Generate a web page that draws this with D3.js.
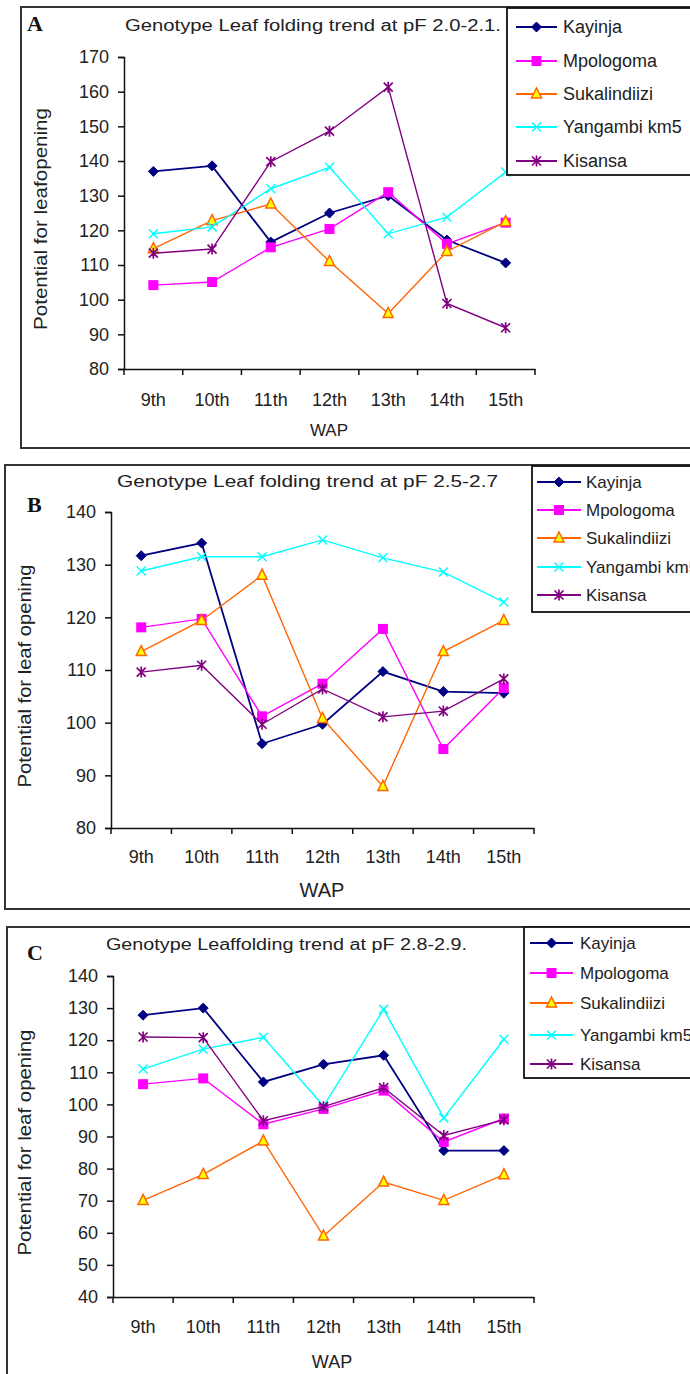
<!DOCTYPE html>
<html>
<head>
<meta charset="utf-8">
<script src="https://cdn.jsdelivr.net/npm/d3@7"></script>
<style>
  body { margin: 0; background: #fff; }
  text { font-family: "Liberation Sans", Arial, sans-serif; fill: #222; }
</style>
</head>
<body>
<div id="chart"></div>
<script>
const weeks = ["9th", "10th", "11th", "12th", "13th", "14th", "15th"]
const genotypes = ["Kayinja", "Mpologoma", "Sukalindiizi", "Yangambi km5", "Kisansa"]

// panel A, pF 2.0-2.1
const kayinjaA = [137, 138.6, 116.6, 125, 130, 117.2, 110.6]
const mpologomaA = [104.2, 105.1, 115.1, 120.4, 131, 116.1, 122.2]
const sukalindiiziA = [114.7, 122.8, 127.6, 111, 96, 113.9, 122.5]
const yangambiA = [119, 121, 132, 138.2, 119, 123.8, 136.8]
const kisansaA = [113.4, 114.6, 139.8, 148.6, 161.3, 98.9, 91.9]

// panel B, pF 2.5-2.7
const kayinjaB = [131.7, 134.1, 96, 99.7, 109.7, 105.9, 105.6]
const mpologomaB = [118.1, 119.7, 101.2, 107.4, 117.8, 95, 106.6]
const sukalindiiziB = [113.5, 119.4, 128, 100.8, 87.9, 113.5, 119.4]
const yangambiB = [128.8, 131.5, 131.5, 134.7, 131.3, 128.6, 122.9]
const kisansaB = [109.6, 110.9, 99.7, 106.4, 101.1, 102.2, 108.3]

// panel C, pF 2.8-2.9
const kayinjaC = [127.8, 130, 107, 112.5, 115.3, 85.6, 85.6]
const mpologomaC = [106.3, 108.1, 93.8, 98.6, 104.3, 88.3, 95.6]
const sukalindiiziC = [70.1, 78.2, 88.6, 59, 75.8, 70.1, 78.1]
const yangambiC = [111, 117.2, 120.9, 99.5, 129.6, 95.8, 120.3]
const kisansaC = [121, 120.8, 94.9, 99.3, 105.2, 90.3, 95.2]

const yTicksA = [80, 90, 100, 110, 120, 130, 140, 150, 160, 170]
const yTicksB = [80, 90, 100, 110, 120, 130, 140]
const yTicksC = [40, 50, 60, 70, 80, 90, 100, 110, 120, 130, 140]

const COLORS = ["#000080", "#FF00FF", "#FF6600", "#00FFFF", "#800080"]
const SHAPES = ["diamond", "square", "triangle", "cross", "star"]

const svg = d3.select("#chart").append("svg")
  .attr("width", 690)
  .attr("height", 1374)

const panels = [
  {
    letter: "A", letterY: 31,
    box: { x: 21, y: 7, bottom: 448 },
    title: "Genotype Leaf folding trend at pF 2.0-2.1.", titleX: 125, titleY: 31, titleW: 376, titleSize: 16,
    xr: [124, 535], yr: [369, 57], yTicks: yTicksA,
    tickSize: 18, xLabelY: 406, ylab: "Potential for leafopening", ylabX: 47, ylabLen: 222,
    wapX: 329, wapY: 436, wapSize: 17,
    legend: { x: 507, y: 8, h: 167, rows: [27, 61, 94, 127, 161], lineX: [516, 557], textX: 563, size: 18 },
    series: [kayinjaA, mpologomaA, sukalindiiziA, yangambiA, kisansaA]
  },
  {
    letter: "B", letterY: 512,
    box: { x: 5, y: 465, bottom: 909 },
    title: "Genotype Leaf folding trend at pF 2.5-2.7", titleX: 117, titleY: 487, titleW: 381, titleSize: 16,
    xr: [111, 534], yr: [828, 512], yTicks: yTicksB,
    tickSize: 18, xLabelY: 863, ylab: "Potential for leaf opening", ylabX: 31, ylabLen: 223,
    wapX: 322, wapY: 897, wapSize: 20,
    legend: { x: 532, y: 466, h: 146, rows: [482, 510, 538, 567, 595], lineX: [537, 581], textX: 586, size: 17 },
    series: [kayinjaB, mpologomaB, sukalindiiziB, yangambiB, kisansaB]
  },
  {
    letter: "C", letterY: 960,
    box: { x: 7, y: 927, bottom: 1400 },
    title: "Genotype Leaffolding trend at pF 2.8-2.9.", titleX: 106, titleY: 950, titleW: 361, titleSize: 16,
    xr: [113, 534], yr: [1297, 976], yTicks: yTicksC,
    tickSize: 18, xLabelY: 1333, ylab: "Potential for leaf opening", ylabX: 31, ylabLen: 226,
    wapX: 332, wapY: 1368, wapSize: 18,
    legend: { x: 524, y: 927, h: 151, rows: [943, 973, 1003, 1035, 1064], lineX: [530, 573], textX: 580, size: 17 },
    series: [kayinjaC, mpologomaC, sukalindiiziC, yangambiC, kisansaC]
  }
]

function drawMarker(g, shape, color, x, y, s) {
  if (shape === "diamond") {
    g.append("path").attr("d", `M${x},${y - s}L${x + s},${y}L${x},${y + s}L${x - s},${y}Z`)
      .attr("fill", color).attr("stroke", color)
  } else if (shape === "square") {
    g.append("rect").attr("x", x - s).attr("y", y - s).attr("width", 2 * s).attr("height", 2 * s)
      .attr("fill", color)
  } else if (shape === "triangle") {
    g.append("path").attr("d", `M${x},${y - s - 1}L${x + s},${y + s - 1}L${x - s},${y + s - 1}Z`)
      .attr("fill", "#FFFF00").attr("stroke", color).attr("stroke-width", 1.5)
  } else if (shape === "cross") {
    g.append("path").attr("d", `M${x - s},${y - s}L${x + s},${y + s}M${x - s},${y + s}L${x + s},${y - s}`)
      .attr("stroke", color).attr("stroke-width", 1.5)
  } else {
    g.append("path").attr("d", `M${x - s},${y - s}L${x + s},${y + s}M${x - s},${y + s}L${x + s},${y - s}M${x},${y - s - 1}L${x},${y + s + 1}`)
      .attr("stroke", color).attr("stroke-width", 1.7)
  }
}

const markerSize = [5, 5, 5, 4.5, 4.5]

panels.forEach(p => {
  const g = svg.append("g")

  // outer frame
  g.append("rect")
    .attr("x", p.box.x).attr("y", p.box.y)
    .attr("width", 720 - p.box.x).attr("height", p.box.bottom - p.box.y)
    .attr("fill", "none").attr("stroke", "#333").attr("stroke-width", 2)

  // panel letter
  g.append("text")
    .attr("x", 27).attr("y", p.letterY)
    .style("font-family", "'Liberation Serif', 'Times New Roman', serif")
    .style("font-weight", "bold").style("font-size", "22px").style("fill", "#111")
    .text(p.letter)

  // title
  g.append("text")
    .attr("x", p.titleX).attr("y", p.titleY)
    .attr("textLength", p.titleW).attr("lengthAdjust", "spacingAndGlyphs")
    .style("font-size", p.titleSize + "px")
    .text(p.title)

  const x = d3.scaleBand().domain(weeks).range(p.xr)
  const y = d3.scaleLinear().domain(d3.extent(p.yTicks)).range(p.yr)

  // y axis
  const yAxis = g.append("g")
    .attr("transform", `translate(${p.xr[0]},0)`)
    .call(d3.axisLeft(y).tickValues(p.yTicks).tickSize(6).tickPadding(9))
  yAxis.select(".domain").attr("stroke", "#111").attr("stroke-width", 1.5)
  yAxis.selectAll(".tick line").attr("stroke", "#111").attr("stroke-width", 1.5)
  yAxis.selectAll("text")
    .style("font-family", "'Liberation Sans', Arial, sans-serif")
    .style("font-size", p.tickSize + "px").attr("fill", "#222")

  // x axis: labels under band centres, ticks at band edges
  const xAxis = g.append("g")
    .attr("transform", `translate(0,${p.yr[0]})`)
    .call(d3.axisBottom(x).tickSize(0).tickPadding(0).tickSizeOuter(0))
  xAxis.select(".domain").attr("stroke", "#111").attr("stroke-width", 1.5)
  xAxis.selectAll("text")
    .attr("y", p.xLabelY - p.yr[0]).attr("dy", 0)
    .style("font-family", "'Liberation Sans', Arial, sans-serif")
    .style("font-size", p.tickSize + "px").attr("fill", "#222")
  const edges = weeks.map(w => x(w)).concat([x(weeks[weeks.length - 1]) + x.bandwidth()])
  g.selectAll(null).data(edges).enter().append("line")
    .attr("x1", d => d).attr("x2", d => d)
    .attr("y1", p.yr[0]).attr("y2", p.yr[0] + 6)
    .attr("stroke", "#111").attr("stroke-width", 1.5)

  // axis titles
  g.append("text")
    .attr("transform", `translate(${p.ylabX},${(p.yr[0] + p.yr[1]) / 2 + 6}) rotate(-90)`)
    .attr("text-anchor", "middle")
    .attr("textLength", p.ylabLen).attr("lengthAdjust", "spacingAndGlyphs")
    .style("font-size", "18px")
    .text(p.ylab)
  g.append("text")
    .attr("x", p.wapX).attr("y", p.wapY)
    .attr("text-anchor", "middle")
    .style("font-size", p.wapSize + "px")
    .text("WAP")

  // series
  const line = d3.line().x((d, i) => x(weeks[i]) + x.bandwidth() / 2).y(d => y(d))
  p.series.forEach((vals, si) => {
    g.append("path")
      .attr("d", line(vals))
      .attr("fill", "none")
      .attr("stroke", COLORS[si])
      .attr("stroke-width", si === 0 ? 1.8 : 1.4)
    vals.forEach((v, i) => {
      drawMarker(g, SHAPES[si], COLORS[si], x(weeks[i]) + x.bandwidth() / 2, y(v), markerSize[si])
    })
  })

  // legend
  const L = p.legend
  g.append("rect")
    .attr("x", L.x).attr("y", L.y)
    .attr("width", 720 - L.x).attr("height", L.h)
    .attr("fill", "#fff").attr("stroke", "#111").attr("stroke-width", 1.8)
  genotypes.forEach((name, si) => {
    const ry = L.rows[si]
    g.append("line")
      .attr("x1", L.lineX[0]).attr("x2", L.lineX[1])
      .attr("y1", ry).attr("y2", ry)
      .attr("stroke", COLORS[si]).attr("stroke-width", 1.8)
    drawMarker(g, SHAPES[si], COLORS[si], (L.lineX[0] + L.lineX[1]) / 2, ry, markerSize[si])
    g.append("text")
      .attr("x", L.textX).attr("y", ry + 6)
      .style("font-size", L.size + "px")
      .text(name)
  })
})
</script>
</body>
</html>
